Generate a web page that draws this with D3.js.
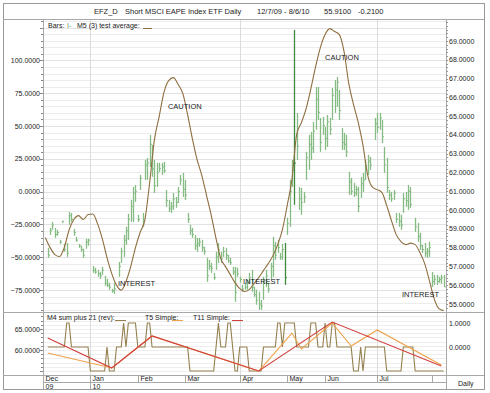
<!DOCTYPE html>
<html><head><meta charset="utf-8">
<script src="https://cdn.jsdelivr.net/npm/d3@7/dist/d3.min.js"></script>
<style>body{margin:0;background:#fff}text{font-family:"Liberation Sans",Arial,sans-serif;fill:#222}</style>
</head><body><svg id="c" width="490" height="393"></svg>
<script>
// ---------- DATA ----------
const months = ["Dec","Jan","Feb","Mar","Apr","May","Jun","Jul",""];
const monthStart = [0,20,40,60,83,103,119,141,164];
const years = ["09","10"];
const yearStart = [0,20];
const quarterStart = [20,83,141];
const totalDays = 170;

const barDay = [2,3,4,5,6,7,8,9,10,11,12,13,14,15,16,17,18,19,21,22,23,24,25,26,27,28,29,30,32,33,34,35,36,37,38,39,40,41,42,43,44,45,46,47,48,49,50,51,52,53,54,55,56,57,58,59,60,61,62,63,64,65,66,67,68,69,70,71,72,73,74,75,76,77,78,79,80,81,82,83,84,85,86,87,88,89,90,91,92,93,94,95,96,97,98,99,100,101,102,103,104,105,106,107,108,109,110,111,112,113,114,115,116,117,118,119,120,121,122,123,124,125,126,127,128,129,130,131,132,133,134,135,136,137,138,140,141,142,143,144,145,146,147,148,149,150,151,152,153,154,155,157,158,159,160,161,162,163,164,165,166,167,168,169];
const barHigh = [57.99,59.05,59.37,59.05,58.95,58.41,59.43,58.20,58.25,59.90,59.85,59.00,58.57,58.20,58.10,57.94,58.47,58.47,57.03,56.93,56.82,56.71,56.98,56.50,56.34,56.13,55.81,56.13,57.24,57.99,58.68,59.11,59.80,60.54,61.23,61.34,59.75,61.87,59.85,62.67,62.78,64.00,63.47,62.67,62.51,62.51,62.51,62.56,61.07,60.54,60.44,60.91,60.70,61.23,61.87,61.98,61.61,59.85,59.21,59.05,58.68,58.52,58.52,58.41,58.04,57.46,57.35,57.19,56.66,57.78,58.25,57.78,58.04,57.99,57.62,57.46,56.98,56.98,56.93,56.45,56.02,56.13,56.29,56.66,56.82,55.92,55.76,55.65,55.22,56.45,56.82,56.13,57.19,58.57,58.31,58.41,57.72,58.20,58.25,59.59,61.61,62.67,69.59,65.17,61.23,61.18,60.97,63.10,64.00,64.16,64.69,66.55,66.55,64.90,64.96,64.43,65.06,64.90,66.50,66.93,67.09,66.39,64.37,64.11,64.00,62.03,61.71,61.45,61.29,61.23,61.77,61.98,62.67,62.94,62.83,64.90,65.17,65.17,64.80,63.36,62.78,61.07,60.97,61.07,59.85,59.85,59.75,60.91,60.97,61.34,61.23,59.59,59.32,58.79,58.15,58.25,57.99,58.31,56.71,56.55,56.55,56.45,56.55,56.55];
const barLow = [57.46,58.68,58.95,58.52,58.63,58.20,59.32,57.78,57.51,59.21,59.37,58.63,58.31,57.99,57.78,57.46,57.94,58.10,56.66,56.61,56.45,56.34,56.55,55.97,55.91,55.76,55.60,55.54,56.45,57.19,57.51,58.15,58.41,59.37,59.37,60.44,59.37,61.07,59.11,61.61,61.61,62.30,61.77,60.91,61.23,62.03,61.87,61.98,60.17,59.90,59.85,60.01,60.12,60.38,61.34,60.70,60.54,59.32,58.68,58.52,57.88,57.78,58.04,57.78,57.62,56.18,56.82,56.66,56.29,56.82,57.19,57.19,57.51,57.35,57.19,57.08,56.55,55.12,56.45,56.13,55.65,55.76,55.76,56.13,55.65,55.38,54.96,54.69,54.69,55.22,55.91,55.60,56.29,56.45,57.35,57.72,57.35,57.35,56.02,58.68,59.11,61.23,60.28,62.67,60.01,59.75,60.38,61.61,62.14,62.67,63.04,64.27,64.80,63.10,64.00,63.20,63.36,64.00,64.80,65.17,65.49,64.80,63.20,63.20,62.83,60.81,60.81,60.70,60.76,59.90,60.65,60.97,61.61,61.87,62.14,63.73,64.11,64.27,63.57,61.98,60.91,60.54,60.44,60.54,59.32,59.11,58.95,59.85,60.17,60.01,60.12,58.84,58.31,57.88,57.72,57.51,57.46,57.51,55.91,56.02,56.02,56.13,56.08,55.91];
const barClose = [57.6,58.9,59.2,58.7,58.8,58.3,59.4,57.9,57.7,59.7,59.5,58.8,58.4,58.1,57.9,57.6,58.3,58.4,56.8,56.7,56.6,56.5,56.8,56.1,56.0,55.9,55.7,55.8,57.0,57.8,58.4,58.9,59.5,60.2,60.9,61.0,59.5,61.7,59.4,62.4,62.5,63.5,62.2,61.3,62.0,62.2,62.3,62.1,60.5,60.1,60.2,60.6,60.4,61.0,61.6,61.1,60.8,59.5,58.9,58.7,58.1,58.2,58.3,58.0,57.8,56.5,57.0,56.9,56.4,57.5,57.9,57.4,57.8,57.6,57.3,57.2,56.7,55.6,56.6,56.3,55.8,55.9,56.1,56.4,55.9,55.5,55.2,55.0,54.9,56.1,56.5,55.8,57.0,58.1,57.6,58.0,57.5,57.9,56.4,59.3,61.0,62.1,62.5,63.4,60.6,60.4,60.7,62.8,63.5,63.3,64.2,65.9,65.2,63.6,64.5,63.8,64.7,64.3,66.1,66.4,66.8,65.3,63.6,63.5,63.1,61.5,61.0,60.9,61.1,60.2,61.4,61.6,62.3,62.6,62.4,64.6,64.4,64.9,63.9,62.4,61.2,60.8,60.6,60.9,59.5,59.4,59.2,60.6,60.5,61.0,60.3,59.1,58.6,58.1,57.9,57.7,57.8,58.0,56.2,56.3,56.2,56.3,56.4,55.91];
const darkBars = [102,106];

const avgDay = d3.range(1,170,2);
const avgValue = [-35.1,-42.7,-48.0,-49.5,-42.5,-29.3,-21.3,-18.3,-21.3,-17.5,-17.1,-24.4,-35.8,-50.3,-62.5,-71.3,-75.1,-68.6,-57.2,-42.7,-31.0,-21.3,6.9,39.6,57.2,75.5,84.6,86.9,81.6,74.7,58.7,40.4,24.4,12.2,-3.0,-18.3,-35.8,-51.1,-57.2,-63.3,-69.4,-73.9,-76.2,-74.7,-70.1,-65.5,-60.2,-54.9,-48.8,-40.4,-29.0,-10.7,9.1,43.4,52.6,63.3,78.5,95.3,109.8,119.7,124.2,122.0,119.7,106.7,82.3,66.3,52.6,35.1,12.2,3.4,1.5,-0.8,-10.7,-22.1,-32.8,-38.1,-40.4,-39.3,-40.4,-46.5,-54.9,-67.8,-81.6,-89.2,-90.7];

const m4FirstDay = 2;
const m4Value = [0,0,0,0,0,0,0,0, 1,1, 0,0,0,0,0,0,0,0, -1,-1,-1,-1,-1,-1,-1, 0, -1,-1,-1, 0,0,0, 1, 0, 1,1,1,1, 0,0,0,0, 1,1,
 0,0,0,0,0,0,0,0,0,0,0,0,0,0,0,0, -1,-1,-1,-1,-1,-1,-1,-1,-1,-1,-1, 0, 1, 0,0,0, 1,1, 0, -1,-1, 0,0,0,0, -1,-1,-1,-1,-1,-1,
 0,0,0,0,0,0, 1,1, 0, 1,1,1,1,1, 0,0,0,0,0,0, 1,1,1, 0,0,0, 1, 0,0, 1,1, 0,0,0,0,0,0,0, -1,-1,-1, 0, -1, 0,0,0,0,0,0,0,0,0,
 -1,-1,-1,-1,-1,-1,-1, 0,0,0,0,0, -1,-1,-1,-1,-1,-1,-1,-1,-1,-1,-1,-1,-1];

const t11Day = [2,29,46,91,122,168];
const t11Value = [0.375,-0.875,0.46,-1.0,1.04,-0.79];
const t5Day = [2,29,46,91,105,109,122,130,141,168];
const t5Value = [-0.25,-0.875,0.46,-1.0,0.58,-0.08,1.0,0.04,0.71,-0.75];

const leftTicks = [100,75,50,25,0,-25,-50,-75];
const rightTicks = [69,68,67,66,65,64,63,62,61,60,59,58,57,56,55];
const lowLeftTicks = [65,60];
const lowRightTicks = [1,0];

const annText = ["CAUTION","CAUTION","INTEREST","INTEREST","INTEREST"];
const annDay = [52.7,119.0,31.6,84.4,151.4];
const annPrice = [65.38,67.99,55.97,56.07,55.38];

// ---------- LAYOUT ----------
const L=43,R=446,T=19,B=312,LB=375,DB=389,FX=3,FY=3,FR=484;
const svg=d3.select('#c');
const x=d3.scaleLinear().domain([0,totalDays]).range([L,R]);
const yL=d3.scaleLinear().domain([-75,100]).range([290,60.4]);
const yR=d3.scaleLinear().domain([55,69]).range([304,41]);
const yLL=d3.scaleLinear().domain([60,65]).range([350,329]);
const yLR=d3.scaleLinear().domain([-1,1]).range([371,323]);
const fmt=d3.format(".4f");

const defs=svg.append('defs');
defs.append('clipPath').attr('id','cm').append('rect').attr('x',L).attr('y',T).attr('width',R-L).attr('height',B-T);
defs.append('clipPath').attr('id','cl').append('rect').attr('x',L).attr('y',B).attr('width',R-L).attr('height',LB-B);

// grid main
const gm=svg.append('g');
const gridVals=d3.range(-90,131,5);
gm.selectAll('line.h').data(gridVals).join('line')
 .attr('x1',L).attr('x2',R).attr('y1',d=>Math.round(yL(d))+.5).attr('y2',d=>Math.round(yL(d))+.5)
 .attr('stroke',d=>d%25===0?'#e2e2e2':'#ececec').attr('stroke-width',1);
gm.selectAll('line.v').data(quarterStart).join('line')
 .attr('x1',d=>Math.round(x(d))+.5).attr('x2',d=>Math.round(x(d))+.5).attr('y1',T).attr('y2',B)
 .attr('stroke','#dcdcdc');
// grid lower
const gl=svg.append('g');
gl.selectAll('line').data(d3.range(55,69,1)).join('line')
 .attr('x1',L).attr('x2',R).attr('y1',d=>Math.round(yLL(d))+.5).attr('y2',d=>Math.round(yLL(d))+.5)
 .attr('stroke','#eeeeee');
gl.selectAll('line.v').data(quarterStart).join('line')
 .attr('x1',d=>Math.round(x(d))+.5).attr('x2',d=>Math.round(x(d))+.5).attr('y1',B).attr('y2',LB)
 .attr('stroke','#dcdcdc');

// bars
const gb=svg.append('g').attr('clip-path','url(#cm)');
barDay.forEach((d,i)=>{
  const dark=darkBars.includes(d);
  const col=dark?'#3f8a3f':'#84bc84';
  const xx=Math.round(x(d))+.5;
  gb.append('line').attr('x1',xx).attr('x2',xx).attr('y1',yR(barHigh[i])).attr('y2',yR(barLow[i]))
    .attr('stroke',col).attr('stroke-width',1.3);
  gb.append('line').attr('x1',xx).attr('x2',xx+1.5).attr('y1',yR(barClose[i])).attr('y2',yR(barClose[i]))
    .attr('stroke',col).attr('stroke-width',1);
});
// average line
gb.append('path').datum(avgDay.map((d,i)=>[d,avgValue[i]]))
  .attr('d',d3.line().x(d=>x(d[0])).y(d=>yL(d[1])).curve(d3.curveMonotoneX))
  .attr('fill','none').attr('stroke','#8f6e3e').attr('stroke-width',1.1);
// annotations
svg.append('g').selectAll('text').data(annText).join('text')
  .attr('x',(d,i)=>x(annDay[i])).attr('y',(d,i)=>yR(annPrice[i]))
  .attr('font-size',7.5).text(d=>d);

// lower lines
const glw=svg.append('g').attr('clip-path','url(#cl)');
glw.append('path').datum(m4Value.map((v,i)=>[m4FirstDay+i,v]))
  .attr('d',d3.line().x(d=>x(d[0])).y(d=>yLR(d[1])))
  .attr('fill','none').attr('stroke','#94804f').attr('stroke-width',1.1);
glw.append('path').datum(t5Day.map((d,i)=>[d,t5Value[i]]))
  .attr('d',d3.line().x(d=>x(d[0])).y(d=>yLR(d[1])))
  .attr('fill','none').attr('stroke','#eea24a').attr('stroke-width',1.1);
glw.append('path').datum(t11Day.map((d,i)=>[d,t11Value[i]]))
  .attr('d',d3.line().x(d=>x(d[0])).y(d=>yLR(d[1])))
  .attr('fill','none').attr('stroke','#d2403c').attr('stroke-width',1.1);

// frame & panel borders
const bc='#a8a8a8';
svg.append('rect').attr('x',FX+.5).attr('y',FY+.5).attr('width',FR-FX).attr('height',DB-FY).attr('fill','none').attr('stroke','#999');
[[FX,T,FR,T],[FX,B,FR,B],[FX,LB,FR,LB],[L,382,R,382]].forEach(a=>svg.append('line')
  .attr('x1',a[0]).attr('x2',a[2]).attr('y1',a[1]+.5).attr('y2',a[3]+.5).attr('stroke',bc));
[[L,T,L,DB],[R,T,R,DB]].forEach(a=>svg.append('line')
  .attr('x1',a[0]+.5).attr('x2',a[2]+.5).attr('y1',a[1]).attr('y2',a[3]).attr('stroke',bc));

// main axes
const fs=7;
const ga=svg.append('g');
d3.range(-90,131,5).forEach(v=>{const yy=Math.round(yL(v))+.5; if(yy>T&&yy<B)
 ga.append('line').attr('x1',L-(v%25===0?3:2)).attr('x2',L).attr('y1',yy).attr('y2',yy).attr('stroke','#888');});
ga.selectAll('text.l').data(leftTicks).join('text').attr('x',40).attr('y',d=>yL(d)+2.5)
 .attr('text-anchor','end').attr('font-size',fs).text(fmt);
d3.range(54.6,70.1,0.2).forEach(v=>{const yy=Math.round(yR(v))+.5; if(yy>T&&yy<B)
 ga.append('line').attr('x1',R).attr('x2',R+2).attr('y1',yy).attr('y2',yy).attr('stroke','#999');});
ga.selectAll('text.r').data(rightTicks).join('text').attr('x',449).attr('y',d=>yR(d)+2.5)
 .attr('font-size',fs).text(fmt);
// lower axes
d3.range(55,69,1).forEach(v=>{const yy=Math.round(yLL(v))+.5; if(yy>B&&yy<LB)
 ga.append('line').attr('x1',L-(v%5===0?3:2)).attr('x2',L).attr('y1',yy).attr('y2',yy).attr('stroke','#888');});
lowLeftTicks.forEach(v=>ga.append('text').attr('x',40).attr('y',yLL(v)+2.5).attr('text-anchor','end').attr('font-size',fs).text(fmt(v)));
lowRightTicks.forEach(v=>ga.append('text').attr('x',449).attr('y',yLR(v)+2.5).attr('font-size',fs).text(fmt(v)));

// date axis
months.forEach((m,i)=>{const xx=Math.round(x(monthStart[i]))+.5;
 if(i>0) ga.append('line').attr('x1',xx).attr('x2',xx).attr('y1',LB).attr('y2',382).attr('stroke',bc);
 ga.append('text').attr('x',xx+2).attr('y',381.3).attr('font-size',fs).text(m);});
years.forEach((yv,i)=>{const xx=Math.round(x(yearStart[i]))+.5;
 if(i>0) ga.append('line').attr('x1',xx).attr('x2',xx).attr('y1',382).attr('y2',DB).attr('stroke',bc);
 ga.append('text').attr('x',xx+2).attr('y',388.5).attr('font-size',fs).text(yv);});
ga.append('text').attr('x',458).attr('y',385.5).attr('font-size',fs).text('Daily');

// title
const tt=[["EFZ_D",94],["Short MSCI EAPE Index ETF Daily",125],["12/7/09 - 8/6/10",257],["55.9100",324],["-0.2100",358]];
tt.forEach(t=>svg.append('text').attr('x',t[1]).attr('y',14).attr('font-size',7.5).text(t[0]));

// legends
svg.append('text').attr('x',48).attr('y',28).attr('font-size',fs).text('Bars:');
svg.append('text').attr('x',67).attr('y',28).attr('font-size',fs).style('fill','#4a9a4a').text('I-');
svg.append('text').attr('x',77).attr('y',28).attr('font-size',fs).text('M5 (3) test average:');
svg.append('line').attr('x1',143).attr('x2',152).attr('y1',28.5).attr('y2',28.5).attr('stroke','#8f6e3e');
const lg=[["M4 sum plus 21 (rev):",47,115,126,'#94804f'],["T5 Simple:",145,172,183,'#eea24a'],["T11 Simple:",193,232,243,'#d2403c']];
lg.forEach(l=>{svg.append('text').attr('x',l[1]).attr('y',320).attr('font-size',fs).text(l[0]);
 svg.append('line').attr('x1',l[2]).attr('x2',l[3]).attr('y1',320.5).attr('y2',320.5).attr('stroke',l[4]);});
</script></body></html>
